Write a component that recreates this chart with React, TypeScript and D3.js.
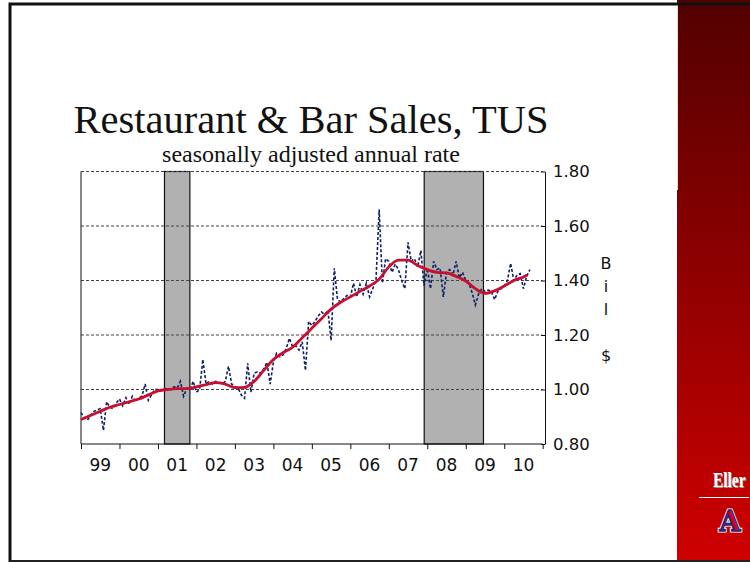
import React, { useEffect, useRef } from "react";
import * as d3 from "d3";

// monthly sales, billions $, Jan 1999 onward
const sales1999 = [0.915, 0.897, 0.888, 0.905, 0.92, 0.925, 0.93, 0.85, 0.955, 0.935, 0.93, 0.95];
const sales2000 = [0.965, 0.94, 0.97, 0.945, 0.975, 0.955, 0.97, 0.975, 1.02, 0.96, 0.98, 1.0];
const sales2001 = [1.0, 0.995, 1.005, 1.0, 1.0, 1.01, 1.005, 1.03, 0.975, 1.005, 1.0, 1.03];
const sales2002 = [0.99, 1.0, 1.11, 1.02, 1.03, 1.02, 1.03, 1.025, 1.02, 1.03, 1.085, 1.02];
const sales2003 = [1.01, 1.005, 0.98, 0.968, 1.096, 0.99, 1.06, 1.065, 1.06, 1.075, 1.1, 1.02];
const sales2004 = [1.1, 1.133, 1.12, 1.127, 1.15, 1.188, 1.157, 1.16, 1.145, 1.175, 1.07, 1.25];
const sales2005 = [1.235, 1.25, 1.27, 1.285, 1.275, 1.29, 1.18, 1.445, 1.33, 1.32, 1.335, 1.345];
const sales2006 = [1.34, 1.39, 1.34, 1.385, 1.35, 1.39, 1.34, 1.37, 1.4, 1.66, 1.39, 1.48];
const sales2007 = [1.47, 1.43, 1.46, 1.44, 1.4, 1.37, 1.54, 1.47, 1.48, 1.45, 1.51, 1.38];
const sales2008 = [1.445, 1.37, 1.47, 1.44, 1.445, 1.34, 1.43, 1.44, 1.42, 1.47, 1.41, 1.43];
const sales2009 = [1.4, 1.39, 1.355, 1.31, 1.35, 1.37, 1.36, 1.365, 1.36, 1.33, 1.36, 1.37];
const sales2010 = [1.38, 1.4, 1.463, 1.4, 1.42, 1.425, 1.37, 1.415, 1.44];

// smoothed trend (red line)
const trendDates = [1999, 1999.25, 1999.5, 1999.75, 2000, 2000.25, 2000.5, 2000.75, 2001, 2001.25, 2001.5, 2001.75,
  2002, 2002.25, 2002.5, 2002.75, 2003, 2003.25, 2003.5, 2003.75, 2004, 2004.25, 2004.5, 2004.75,
  2005, 2005.25, 2005.5, 2005.75, 2006, 2006.25, 2006.5, 2006.75, 2007, 2007.25, 2007.5, 2007.75,
  2008, 2008.25, 2008.5, 2008.75, 2009, 2009.25, 2009.5, 2009.75, 2010, 2010.25, 2010.5, 2010.6];
const trendValues = [0.89, 0.905, 0.92, 0.935, 0.945, 0.955, 0.965, 0.98, 0.995, 1.0, 1.003, 1.003,
  1.01, 1.018, 1.025, 1.02, 1.007, 1.008, 1.03, 1.07, 1.11, 1.135, 1.155, 1.19,
  1.225, 1.26, 1.295, 1.32, 1.34, 1.36, 1.38, 1.405, 1.45, 1.475, 1.475, 1.455,
  1.44, 1.43, 1.428, 1.415, 1.398, 1.37, 1.353, 1.362, 1.38, 1.4, 1.413, 1.42];

// recessions (start, end) in decimal years
const recessions = [[2001.17, 2001.83], [2007.92, 2009.46]];

const yTicks = [0.8, 1.0, 1.2, 1.4, 1.6, 1.8];
const gridTicks = [1.0, 1.2, 1.4, 1.6, 1.8];
const yearLabels = ["99", "00", "01", "02", "03", "04", "05", "06", "07", "08", "09", "10"];
const unitLetters = ["B", "i", "l", "", "$"];

const App = () => {
  const ref = useRef<SVGSVGElement>(null);

  useEffect(() => {
    const svg = d3.select(ref.current);
    svg.selectAll("*").remove();

    const left = 81, right = 542.7, top = 171.5, bottom = 444;
    const x = d3.scaleLinear().domain([1999, 2011]).range([left, right]);
    const y = d3.scaleLinear().domain([0.8, 1.8]).range([bottom, top]);

    const sales = [sales1999, sales2000, sales2001, sales2002, sales2003, sales2004,
      sales2005, sales2006, sales2007, sales2008, sales2009, sales2010].flat();
    const monthly = sales.map((v, i) => [1999 + i / 12, v]);
    const trend = trendDates.map((d, i) => [d, trendValues[i]]);

    // side bar
    const grad = svg.append("defs").append("linearGradient")
      .attr("id", "bar").attr("x1", 0).attr("x2", 0).attr("y1", 0).attr("y2", 1);
    grad.append("stop").attr("offset", "0%").attr("stop-color", "#520000");
    grad.append("stop").attr("offset", "100%").attr("stop-color", "#cf0000");
    svg.append("rect").attr("x", 677).attr("y", 0).attr("width", 73).attr("height", 562)
      .attr("fill", "url(#bar)");
    svg.append("line").attr("x1", 677.5).attr("x2", 677.5).attr("y1", 5).attr("y2", 190)
      .attr("stroke", "#ddd");

    // slide frame
    svg.append("path").attr("d", "M10,562 V4 H750")
      .attr("fill", "none").attr("stroke", "#111").attr("stroke-width", 3);
    svg.append("line").attr("x1", 10).attr("x2", 750).attr("y1", 561).attr("y2", 561)
      .attr("stroke", "#222").attr("stroke-width", 2);

    // logo
    const eller = (dx: number, fill: string) =>
      svg.append("text").attr("transform", `translate(${713 + dx},${487 + dx}) scale(0.7,1)`)
        .attr("font-family", "Liberation Serif").attr("font-weight", "bold").attr("font-size", 22)
        .attr("fill", fill).text("Eller");
    eller(1, "#999");
    eller(0, "#fff");
    svg.append("line").attr("x1", 699).attr("x2", 749).attr("y1", 497.5).attr("y2", 497.5)
      .attr("stroke", "#fff");
    svg.append("text").attr("x", 730).attr("y", 531).attr("text-anchor", "middle")
      .attr("font-family", "DejaVu Serif").attr("font-weight", "bold").attr("font-size", 27)
      .attr("fill", "#cc0033").attr("stroke", "#fff").attr("stroke-width", 3)
      .attr("paint-order", "stroke").text("A");
    svg.append("text").attr("x", 730).attr("y", 531).attr("text-anchor", "middle")
      .attr("font-family", "DejaVu Serif").attr("font-weight", "bold").attr("font-size", 27)
      .attr("fill", "none").attr("stroke", "#1b2a7a").attr("stroke-width", 1.3).text("A");

    // titles
    svg.append("text").attr("x", 311).attr("y", 133).attr("text-anchor", "middle")
      .attr("font-family", "Liberation Serif").attr("font-size", 40.5).attr("fill", "#111")
      .text("Restaurant & Bar Sales, TUS");
    svg.append("text").attr("x", 311).attr("y", 162).attr("text-anchor", "middle")
      .attr("font-family", "Liberation Serif").attr("font-size", 24).attr("fill", "#111")
      .text("seasonally adjusted annual rate");

    // plot background
    svg.append("rect").attr("x", left).attr("y", top).attr("width", right - left)
      .attr("height", bottom - top).attr("fill", "#fff");

    // recession shading
    recessions.forEach(([a, b]) => {
      svg.append("rect").attr("x", x(a)).attr("y", top).attr("width", x(b) - x(a))
        .attr("height", bottom - top).attr("fill", "#b1b1b1")
        .attr("stroke", "#111").attr("stroke-width", 1.2);
    });

    // gridlines
    svg.append("g").selectAll("line").data(gridTicks).join("line")
      .attr("x1", left).attr("x2", right)
      .attr("y1", d => y(d)).attr("y2", d => y(d))
      .attr("stroke", "#444").attr("stroke-dasharray", "3,2");

    svg.append("line").attr("x1", left).attr("x2", left).attr("y1", top).attr("y2", bottom)
      .attr("stroke", "#111");

    // x axis
    const xAxis = svg.append("g").attr("transform", `translate(0,${bottom})`)
      .call(d3.axisBottom(x).tickValues(d3.range(1999, 2012)).tickSize(5).tickFormat(() => ""));
    xAxis.select(".domain").attr("d", `M${left},0H${right}`).attr("stroke", "#111");
    xAxis.selectAll(".tick line").attr("stroke", "#111");
    svg.append("g").selectAll("text").data(yearLabels).join("text")
      .attr("x", (d, i) => x(1999.5 + i)).attr("y", 471).attr("text-anchor", "middle")
      .attr("font-family", "DejaVu Sans").attr("font-size", 17).attr("fill", "#111")
      .text(d => d);

    // y axis on the right
    const yAxis = svg.append("g").attr("transform", "translate(545,0)")
      .call(d3.axisLeft(y).tickValues(yTicks).tickSize(4).tickSizeOuter(0).tickFormat(() => ""));
    yAxis.select(".domain").attr("stroke", "#111");
    yAxis.selectAll(".tick line").attr("stroke", "#111");
    svg.append("g").selectAll("text").data(yTicks).join("text")
      .attr("x", 553).attr("y", d => y(d)).attr("dy", "0.36em")
      .attr("font-family", "DejaVu Sans").attr("font-size", 16.5).attr("fill", "#111")
      .text(d => d.toFixed(2));
    svg.append("g").selectAll("text").data(unitLetters).join("text")
      .attr("x", 606).attr("y", (d, i) => 269 + i * 23).attr("text-anchor", "middle")
      .attr("font-family", "DejaVu Sans").attr("font-size", 16).attr("fill", "#111")
      .text(d => d);

    // monthly series
    svg.append("path").datum(monthly)
      .attr("fill", "none").attr("stroke", "#0c1f66").attr("stroke-width", 1.6)
      .attr("stroke-dasharray", "3,2")
      .attr("d", d3.line().x(d => x(d[0])).y(d => y(d[1])));

    // trend
    svg.append("path").datum(trend)
      .attr("fill", "none").attr("stroke", "#c8102e").attr("stroke-width", 2.8)
      .attr("d", d3.line().x(d => x(d[0])).y(d => y(d[1])).curve(d3.curveMonotoneX));
  }, []);

  return (
    <svg ref={ref} width={750} height={562}
      style={{ position: "absolute", left: 0, top: 0, background: "#fff" }} />
  );
};

export default App;
